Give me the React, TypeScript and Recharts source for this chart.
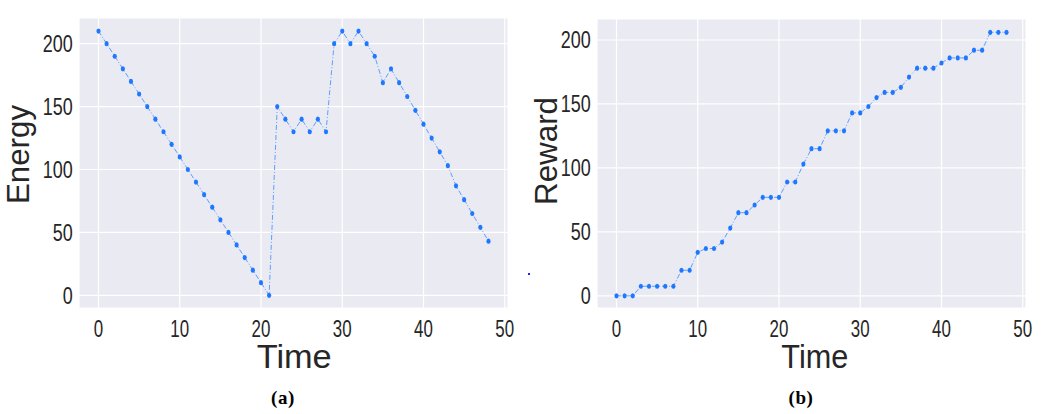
import React from "react";
import { LineChart, Line, XAxis, YAxis, CartesianGrid } from "recharts";

const time = [
  0, 1, 2, 3, 4, 5, 6, 7, 8, 9, 10, 11, 12, 13, 14, 15, 16, 17, 18, 19, 20, 21, 22, 23, 24,
  25, 26, 27, 28, 29, 30, 31, 32, 33, 34, 35, 36, 37, 38, 39, 40, 41, 42, 43, 44, 45, 46, 47, 48,
];

const energy = [
  210, 200, 190, 180, 170, 160, 150, 140, 130, 120, 110, 100, 90, 80, 70, 60, 50, 40, 30, 20, 10, 0,
  150, 140, 130, 140, 130, 140, 130,
  200, 210, 200, 210, 200, 190,
  169, 180, 169, 158, 147, 136, 125, 114, 103, 87, 76, 65, 54, 43,
];

const reward = [
  0, 0, 0, 7.5, 7.5, 7.5, 7.5, 7.5, 20, 20, 34, 37, 37, 42, 53, 65, 65, 71, 77, 77, 77, 89, 89,
  103, 115, 115, 129, 129, 129, 143, 143, 148, 155, 159, 159, 163, 171, 178, 178, 178, 182, 186,
  186, 186, 192, 192, 206, 206, 206,
];

const xTicks = [0, 10, 20, 30, 40, 50];
const yTicks = [0, 50, 100, 150, 200];

const TICK_FONT = "'Liberation Sans', Arial, sans-serif";
const INK = "#262626";
const LINE = "#5f9eff";
const MARK = "#1e78ff";

const XTick = ({ x, y, payload }: any) => {
  const s = String(payload.value);
  return (
    <text
      x={x}
      y={y + 29}
      textAnchor="middle"
      fontFamily={TICK_FONT}
      fontSize={23.5}
      fill={INK}
      textLength={s.length * 9.4}
      lengthAdjust="spacingAndGlyphs"
    >
      {s}
    </text>
  );
};

const YTick = ({ x, y, payload }: any) => {
  const s = String(payload.value);
  return (
    <text
      x={x - 6.3}
      y={y + 8.5}
      textAnchor="end"
      fontFamily={TICK_FONT}
      fontSize={23.5}
      fill={INK}
      textLength={s.length * 10}
      lengthAdjust="spacingAndGlyphs"
    >
      {s}
    </text>
  );
};

const Dot = (props: any) => {
  const { cx, cy, index } = props;
  if (cx == null || cy == null) return <g key={index} />;
  return <ellipse key={index} cx={cx} cy={cy} rx={2.1} ry={2.6} fill={MARK} />;
};

const xLabel = (dx: number, len: number) => (props: any) => {
  const vb = props.viewBox || { x: 0, y: 0, width: 0 };
  return (
    <text
      x={vb.x + vb.width / 2 + dx}
      y={vb.y + 60}
      textAnchor="middle"
      fontFamily={TICK_FONT}
      fontSize={34}
      fill={INK}
      textLength={len}
      lengthAdjust="spacingAndGlyphs"
    >
      Time
    </text>
  );
};

const yLabel = (text: string, bx: number, dy: number, len: number) => (props: any) => {
  const vb = props.viewBox || { x: 0, y: 0, height: 0 };
  const cx = vb.x + bx;
  const cy = vb.y + vb.height / 2 + dy;
  return (
    <text
      x={cx}
      y={cy}
      transform={`rotate(-90 ${cx} ${cy})`}
      textAnchor="middle"
      fontFamily={TICK_FONT}
      fontSize={32}
      fill={INK}
      textLength={len}
      lengthAdjust="spacingAndGlyphs"
    >
      {text}
    </text>
  );
};

function Panel({
  values,
  domainY,
  width,
  margin,
  xLab,
  yLab,
}: {
  values: number[];
  domainY: [number, number];
  width: number;
  margin: { top: number; right: number; left: number; bottom: number };
  xLab: (p: any) => React.ReactElement;
  yLab: (p: any) => React.ReactElement;
}) {
  const data = time.map((t, i) => ({ t, v: values[i] }));
  return (
    <LineChart width={width} height={414} data={data} margin={margin}>
      <CartesianGrid fill="#eaeaf2" stroke="#ffffff" strokeWidth={1.2} />
      <XAxis
        dataKey="t"
        type="number"
        domain={[-2.4, 50.4]}
        ticks={xTicks}
        allowDataOverflow
        height={30}
        tickLine={false}
        axisLine={false}
        tickSize={0}
        tickMargin={0}
        tick={<XTick />}
        interval={0}
        label={{ content: xLab }}
      />
      <YAxis
        type="number"
        domain={domainY}
        ticks={yTicks}
        allowDataOverflow
        width={50}
        tickLine={false}
        axisLine={false}
        tickSize={0}
        tickMargin={0}
        tick={<YTick />}
        interval={0}
        label={{ content: yLab }}
      />
      <Line
        type="linear"
        dataKey="v"
        stroke={LINE}
        strokeWidth={1}
        strokeDasharray="5 2 1 2"
        dot={Dot}
        activeDot={false}
        isAnimationActive={false}
      />
    </LineChart>
  );
}

const caption: React.CSSProperties = {
  position: "absolute",
  top: 388,
  width: 60,
  lineHeight: "19px",
  textAlign: "center",
  fontFamily: "'Liberation Serif', 'Times New Roman', serif",
  fontWeight: "bold",
  fontSize: 19,
  letterSpacing: 0.6,
  color: "#000",
};

export default function App() {
  return (
    <div
      style={{
        position: "absolute",
        left: 0,
        top: 0,
        width: 1042,
        height: 414,
        background: "#ffffff",
        overflow: "hidden",
      }}
    >
      <div style={{ position: "absolute", left: 0, top: 0 }}>
        <Panel
          values={energy}
          domainY={[-10.1, 220.4]}
          width={520}
          margin={{ top: 18, right: 12, left: 29, bottom: 76 }}
          xLab={xLabel(0.7, 75)}
          yLab={yLabel("Energy", 0, -8.5, 99)}
        />
      </div>
      <div style={{ position: "absolute", left: 520, top: 0 }}>
        <Panel
          values={reward}
          domainY={[-9.5, 216.4]}
          width={522}
          margin={{ top: 19, right: 16, left: 27, bottom: 76 }}
          xLab={xLabel(3.3, 67)}
          yLab={yLabel("Reward", 9.7, -12.5, 108)}
        />
      </div>
      <div style={{ ...caption, left: 253 }}>(a)</div>
      <div style={{ ...caption, left: 771 }}>(b)</div>
      <div
        style={{
          position: "absolute",
          left: 528,
          top: 273,
          width: 2,
          height: 2,
          background: "#2020ff",
        }}
      />
    </div>
  );
}
